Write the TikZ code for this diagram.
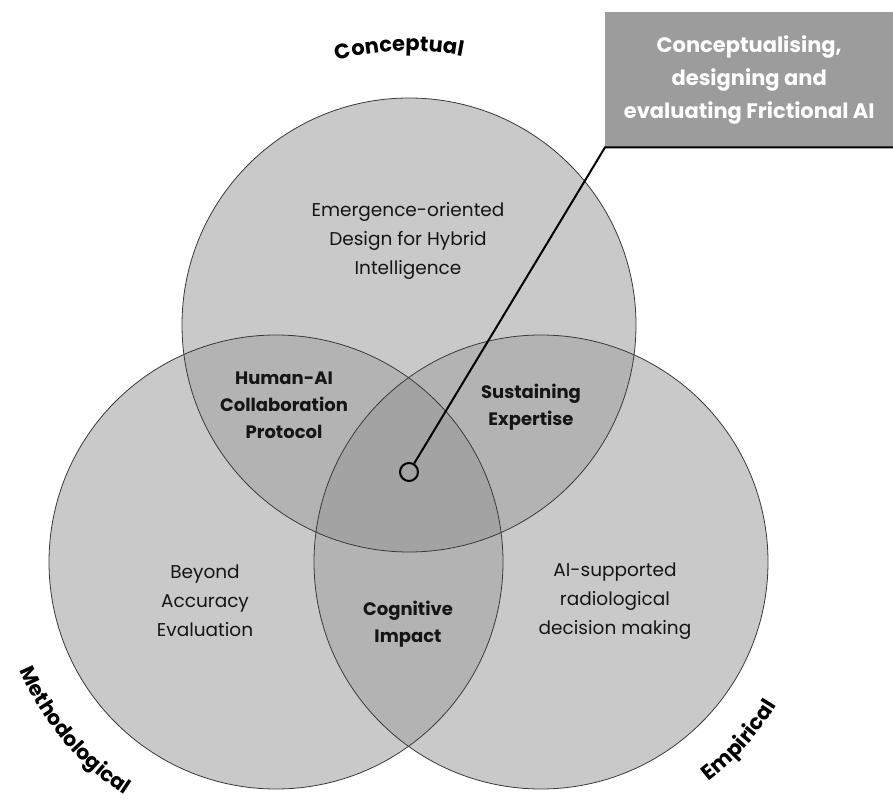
\documentclass[tikz,border=0pt]{standalone}
\usepackage{fontspec}
\setmainfont{Poppins}
\usetikzlibrary{decorations.text}
\definecolor{oneC}{HTML}{C9C9C9}
\definecolor{twoC}{HTML}{B3B3B3}
\definecolor{threeC}{HTML}{A3A3A3}
\definecolor{boxC}{HTML}{9C9C9C}
\definecolor{edgeC}{HTML}{3A3A3A}
\definecolor{inkC}{HTML}{151515}
\tikzset{
  ring/.style={draw=edgeC, line width=0.8pt},
  plainlbl/.style={align=center, text=inkC, font=\fontsize{18.5}{29}\selectfont},
  boldlbl/.style={align=center, text=inkC, font=\bfseries\fontsize{18}{27}\selectfont},
  pointer/.style={draw=black, line width=2pt},
  arclbl/.style={decorate, decoration={text along path, text align=center}}
}
\begin{document}
\begin{tikzpicture}[x=1pt,y=1pt]
\useasboundingbox (0,0) rectangle (893,806);
\coordinate (T) at (409,481);
\coordinate (L) at (276,244);
\coordinate (R) at (541,244);
% single regions
\fill[oneC] (T) circle (227pt);
\fill[oneC] (L) circle (227pt);
\fill[oneC] (R) circle (227pt);
% double overlaps
\begin{scope}
  \clip (T) circle (227pt);
  \fill[twoC] (L) circle (227pt);
  \fill[twoC] (R) circle (227pt);
\end{scope}
\begin{scope}
  \clip (L) circle (227pt);
  \fill[twoC] (R) circle (227pt);
\end{scope}
% triple overlap
\begin{scope}
  \clip (T) circle (227pt);
  \clip (L) circle (227pt);
  \fill[threeC] (R) circle (227pt);
\end{scope}
% outlines
\draw[ring] (T) circle (227pt);
\draw[ring] (L) circle (227pt);
\draw[ring] (R) circle (227pt);

% arc labels
\path[arclbl, decoration={text={|\bfseries\fontsize{21}{21}\selectfont|Conceptual}}]
  ([shift={(117:274pt)}]T) arc[start angle=117, end angle=67, radius=274pt];
\path[arclbl, decoration={text={|\bfseries\fontsize{20.5}{20.5}\selectfont|Methodological}}]
  ([shift={(186:278pt)}]L) arc[start angle=186, end angle=254, radius=278pt];
\path[arclbl, decoration={text={|\bfseries\fontsize{21}{21}\selectfont|Empirical}}]
  ([shift={(288:276pt)}]R) arc[start angle=288, end angle=348, radius=276pt];

% region labels
\node[plainlbl] (emerg) at (408,565) {Emergence-oriented\\Design for Hybrid\\Intelligence};
\node[boldlbl] (human) at (284,401) {Human-AI\\Collaboration\\Protocol};
\node[boldlbl] (sust) at (531,399) {Sustaining\\Expertise};
\node[plainlbl] (beyond) at (205,205) {Beyond\\Accuracy\\Evaluation};
\node[boldlbl] (cog) at (408,182) {Cognitive\\Impact};
\node[plainlbl] (aisup) at (615,205) {AI-supported\\radiological\\decision making};

% call-out box
\node[fill=boxC, minimum width=288pt, minimum height=135pt, anchor=north west,
      inner sep=0pt, text=white, align=center,
      font=\bfseries\fontsize{21}{33}\selectfont] (box) at (605,794)
  {Conceptualising,\\designing and\\evaluating Frictional AI};
\node[circle, draw=black, line width=2pt, minimum size=18pt, inner sep=0pt] (mark) at (409,334) {};
\draw[pointer] (mark) -- (box.south west) -- (box.south east);
\end{tikzpicture}
\end{document}
